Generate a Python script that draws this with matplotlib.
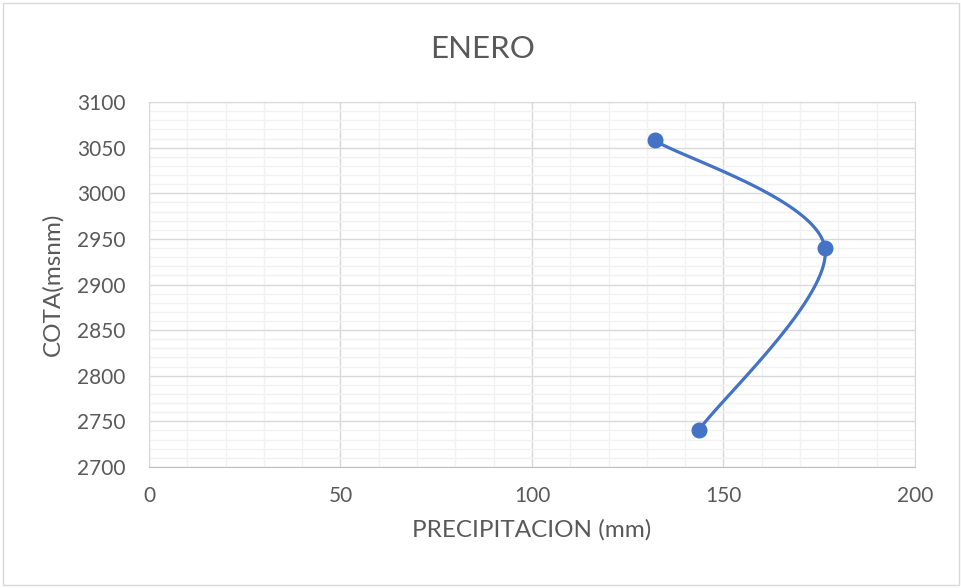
import numpy as np
import matplotlib.pyplot as plt
from matplotlib.patches import Rectangle

# data
precipitacion = [132, 176.5, 143.5]
cota = [3058, 2940, 2740]

title = 'ENERO'
x_label = 'PRECIPITACION (mm)'
y_label = 'COTA(msnm)'

plt.rcParams['font.family'] = ['Lato', 'DejaVu Sans']
text_color = '#595959'
line_color = '#4472C4'


def excel_smooth(xs, ys, n=60):
    # Excel-style smoothed line: cubic Bezier with Catmull-Rom control points
    pts = np.column_stack([xs, ys]).astype(float)
    ext = np.vstack([pts[0], pts, pts[-1]])
    out = []
    for i in range(len(pts) - 1):
        p0, p1 = ext[i + 1], ext[i + 2]
        c1 = p0 + (ext[i + 2] - ext[i]) / 6
        c2 = p1 - (ext[i + 3] - ext[i + 1]) / 6
        t = np.linspace(0, 1, n)[:, None]
        seg = ((1 - t) ** 3) * p0 + 3 * ((1 - t) ** 2) * t * c1 + 3 * (1 - t) * t ** 2 * c2 + t ** 3 * p1
        out.append(seg)
    curve = np.vstack(out)
    return curve[:, 0], curve[:, 1]


fig = plt.figure(figsize=(9.62, 5.88), dpi=100)
ax = fig.add_axes([0.1549, 0.2058, 0.7962, 0.6207])

sx, sy = excel_smooth(precipitacion, cota)
ax.plot(sx, sy, color=line_color, linewidth=2.3, zorder=3, solid_capstyle='round')
ax.plot(precipitacion, cota, 'o', color=line_color, markersize=10.5, zorder=4)

ax.set_xlim(0, 200)
ax.set_ylim(2700, 3100)
ax.set_xticks(np.arange(0, 201, 50))
ax.set_yticks(np.arange(2700, 3101, 50))
ax.set_xticks(np.arange(0, 201, 10), minor=True)
ax.set_yticks(np.arange(2700, 3101, 10), minor=True)
ax.grid(which='major', color='#d9d9d9', linewidth=1.0, zorder=0)
ax.grid(which='minor', color='#f2f2f2', linewidth=1.0, zorder=0)
ax.set_axisbelow(True)
ax.tick_params(which='both', length=0, colors=text_color, labelsize=15)
ax.tick_params(axis='x', pad=14)
ax.tick_params(axis='y', pad=17)
for side in ['top', 'right', 'left']:
    ax.spines[side].set_color('#d9d9d9')
ax.spines['bottom'].set_color('#bfbfbf')

fig.text(0.502, 0.917, title, fontsize=22.5, color=text_color, ha='center', va='center')
ax.set_xlabel(x_label, fontsize=17.5, color=text_color, labelpad=9)
ax.set_ylabel(y_label, fontsize=17.5, color=text_color, labelpad=10)

# chart border
fig.patches.append(Rectangle((0.003, 0.005), 0.994, 0.99, transform=fig.transFigure,
                             fill=False, edgecolor='#d9d9d9', linewidth=1.0))

fig.savefig('out.png', dpi=100)
